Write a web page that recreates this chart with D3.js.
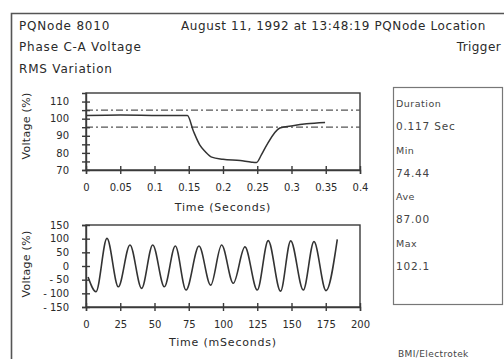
<!DOCTYPE html>
<html>
<head>
<meta charset="utf-8">
<script src="https://cdn.jsdelivr.net/npm/d3@7"></script>
<style>
  html, body { margin: 0; padding: 0; background: #fff; }
  svg { display: block; font-family: "DejaVu Sans", sans-serif; }
  .axis path, .axis line { stroke: #3a3a3a; stroke-width: 1.4; }
  .axis text { fill: #2a2a2a; font-size: 10px; font-family: "DejaVu Sans", sans-serif; }
</style>
</head>
<body>
<svg id="chart" width="504" height="359"></svg>
<script>
// RMS voltage trace (time in seconds, percent of nominal)
const rmsTime  = [0, 0.05, 0.10, 0.148, 0.157, 0.166, 0.174, 0.1835, 0.200, 0.225, 0.242, 0.249, 0.256, 0.264, 0.283, 0.302, 0.322, 0.349];
const rmsValue = [101.8, 102.1, 101.9, 101.8, 92.5, 84.7, 80.8, 77.5, 76.3, 75.5, 74.6, 74.44, 78.8, 84.7, 94.5, 95.9, 97.0, 97.8];

// Threshold limits drawn as dash-dot lines
const rmsLimits = [105, 95];

// Sampled waveform turning points (time in ms, percent)
const waveTime  = [1.5, 7.3, 15.3, 23.6, 32.1, 40.6, 48.7, 57.2, 65.2, 73.0, 82.5, 91.0, 99.0, 107.5, 116.0, 125.0, 133.0, 142.0, 149.4, 158.6, 166.4, 175.2, 183.4];
const waveValue = [-40, -94, 101, -76, 77, -82, 77, -76, 73, -88, 73, -70, 77, -63, 70, -88, 93, -92, 92, -88, 89, -90, 97];

// Tick values
const rmsXTicks  = [0, 0.05, 0.1, 0.15, 0.2, 0.25, 0.3, 0.35, 0.4];
const rmsYTicks  = [70, 75, 80, 85, 90, 95, 100, 105, 110];
const waveXTicks = [0, 25, 50, 75, 100, 125, 150, 175, 200];
const waveYTicks = [-150, -100, -50, 0, 50, 100, 150];

// Header lines and event summary
const headerLeft  = ["PQNode 8010", "Phase C-A Voltage", "RMS Variation"];
const headerRight = "August 11, 1992 at 13:48:19 PQNode Location";
const headerTrig  = "Trigger";
const statNames   = ["Duration", "Min", "Ave", "Max"];
const statValues  = ["0.117 Sec", "74.44", "87.00", "102.1"];

const svg = d3.select("#chart");
const ink = "#2a2a2a";

// Outer page frame (left and top edges visible)
svg.append("path")
  .attr("d", "M11.5,359 L11.5,13.5 L504,13.5")
  .attr("fill", "none").attr("stroke", "#555").attr("stroke-width", 1.6);

// Header text
headerLeft.forEach((t, i) => {
  svg.append("text").attr("x", 19).attr("y", [30, 51, 73][i])
    .attr("font-size", 12).attr("letter-spacing", 0.8).attr("fill", ink).text(t);
});
svg.append("text").attr("x", 181).attr("y", 30)
  .attr("font-size", 12).attr("letter-spacing", 0.6).attr("fill", ink).text(headerRight);
svg.append("text").attr("x", 501).attr("y", 51).attr("text-anchor", "end")
  .attr("font-size", 12).attr("letter-spacing", 0.4).attr("fill", ink).text(headerTrig);

function crossTicks(g, horizontal) {
  g.selectAll(".tick line").each(function() {
    const l = d3.select(this);
    if (horizontal) l.attr("y1", -4).attr("y2", 4);
    else l.attr("x1", -4).attr("x2", 4);
  });
}

// ---------- RMS panel ----------
const xR = d3.scaleLinear().domain([0, 0.4]).range([86, 360]);
const yR = d3.scaleLinear().domain([70, 115]).range([170, 93]);

svg.append("rect").attr("x", 86).attr("y", 93).attr("width", 274).attr("height", 77)
  .attr("fill", "none").attr("stroke", "#3a3a3a").attr("stroke-width", 1.4);

rmsLimits.forEach(v => {
  svg.append("line").attr("x1", xR(0)).attr("x2", xR(0.4))
    .attr("y1", yR(v)).attr("y2", yR(v))
    .attr("stroke", "#555").attr("stroke-width", 1.3)
    .attr("stroke-dasharray", "7,3,2,3");
});

svg.append("path")
  .datum(rmsTime.map((t, i) => [t, rmsValue[i]]))
  .attr("fill", "none").attr("stroke", "#333").attr("stroke-width", 1.5)
  .attr("d", d3.line().x(d => xR(d[0])).y(d => yR(d[1])).curve(d3.curveMonotoneX));

const gxR = svg.append("g").attr("class", "axis").attr("transform", "translate(0,170)")
  .call(d3.axisBottom(xR).tickValues(rmsXTicks).tickSize(4).tickPadding(10)
    .tickFormat(d => d === 0 ? "0" : String(+d.toFixed(2))));
crossTicks(gxR, true);

const gyR = svg.append("g").attr("class", "axis").attr("transform", "translate(86,0)")
  .call(d3.axisLeft(yR).tickValues(rmsYTicks).tickSize(4).tickPadding(13)
    .tickFormat(d => d % 10 === 0 ? d : ""));
crossTicks(gyR, false);

svg.append("text").attr("x", 223).attr("y", 211).attr("text-anchor", "middle")
  .attr("font-size", 11).attr("letter-spacing", 0.8).attr("fill", ink).text("Time (Seconds)");
svg.append("text").attr("transform", "translate(30,126) rotate(-90)").attr("text-anchor", "middle")
  .attr("font-size", 11).attr("letter-spacing", 0.3).attr("fill", ink).text("Voltage (%)");

// ---------- Waveform panel ----------
const xW = d3.scaleLinear().domain([0, 200]).range([86, 360]);
const yW = d3.scaleLinear().domain([-150, 150]).range([307, 225]);

svg.append("rect").attr("x", 86).attr("y", 225).attr("width", 274).attr("height", 82)
  .attr("fill", "none").attr("stroke", "#3a3a3a").attr("stroke-width", 1.4);

svg.append("path")
  .datum(waveTime.map((t, i) => [t, waveValue[i]]))
  .attr("fill", "none").attr("stroke", "#333").attr("stroke-width", 1.6)
  .attr("d", d3.line().x(d => xW(d[0])).y(d => yW(d[1])).curve(d3.curveMonotoneX));

const gxW = svg.append("g").attr("class", "axis").attr("transform", "translate(0,307)")
  .call(d3.axisBottom(xW).tickValues(waveXTicks).tickSize(4).tickPadding(10));
crossTicks(gxW, true);

const gyW = svg.append("g").attr("class", "axis").attr("transform", "translate(86,0)")
  .call(d3.axisLeft(yW).tickValues(waveYTicks).tickSize(4).tickPadding(13)
    .tickFormat(d => d < 0 ? "- " + Math.abs(d) : d));
crossTicks(gyW, false);

svg.append("text").attr("x", 223).attr("y", 346).attr("text-anchor", "middle")
  .attr("font-size", 11).attr("letter-spacing", 0.8).attr("fill", ink).text("Time (mSeconds)");
svg.append("text").attr("transform", "translate(30,264) rotate(-90)").attr("text-anchor", "middle")
  .attr("font-size", 11).attr("letter-spacing", 0.3).attr("fill", ink).text("Voltage (%)");

// ---------- Summary box ----------
svg.append("rect").attr("x", 393.5).attr("y", 87.5).attr("width", 109).attr("height", 217)
  .attr("fill", "none").attr("stroke", "#777").attr("stroke-width", 1.2);

statNames.forEach((name, i) => {
  const y0 = 107 + i * 46.5;
  svg.append("text").attr("x", 396).attr("y", y0)
    .attr("font-size", 9.5).attr("letter-spacing", 0.5).attr("fill", "#444").text(name);
  svg.append("text").attr("x", 396).attr("y", y0 + 23)
    .attr("font-size", 10.5).attr("letter-spacing", 0.8).attr("fill", "#444").text(statValues[i]);
});

svg.append("text").attr("x", 398).attr("y", 357)
  .attr("font-size", 9).attr("letter-spacing", 0.4).attr("fill", "#444").text("BMI/Electrotek");
</script>
</body>
</html>
